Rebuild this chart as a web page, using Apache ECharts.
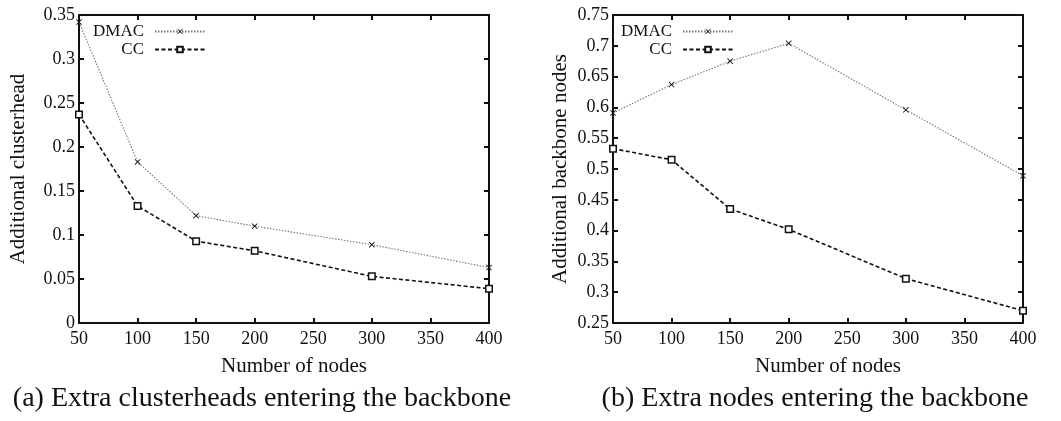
<!DOCTYPE html>
<html>
<head>
<meta charset="utf-8">
<script src="https://cdn.jsdelivr.net/npm/echarts@6/dist/echarts.min.js"></script>
<style>
html,body{margin:0;padding:0;background:#fff;}
#chart{width:1061px;height:421px;}
</style>
</head>
<body>
<div id="chart"></div>
<script>
// ---- data ----
const nodes = [50, 100, 150, 200, 300, 400];
const xTicks = [50, 100, 150, 200, 250, 300, 350, 400];
const seriesNames = ['DMAC', 'CC'];
const clusterheadDMAC = [0.342, 0.183, 0.122, 0.110, 0.089, 0.063];
const clusterheadCC   = [0.237, 0.133, 0.093, 0.082, 0.053, 0.039];
const backboneDMAC = [0.591, 0.637, 0.675, 0.704, 0.596, 0.489];
const backboneCC   = [0.533, 0.515, 0.435, 0.402, 0.322, 0.270];
const captions = ['(a) Extra clusterheads entering the backbone', '(b) Extra nodes entering the backbone'];
const xTitle = 'Number of nodes';
const yTitles = ['Additional clusterhead', 'Additional backbone nodes'];

const FONT = '"Liberation Serif", "DejaVu Serif", serif';
const INK = '#111';
const crossPath = 'path://M0,1L1,0L5,4L9,0L10,1L6,5L10,9L9,10L5,6L1,10L0,9L4,5Z';

function pairs(xs, ys){ return xs.map((x,i)=>[x, ys[i]]); }

const grids = [
  {left:79, right:572, top:15, bottom:98},
  {left:613, right:38, top:15, bottom:98}
];

function xAx(gi, pos, showLabel){
  return {
    type:'value', gridIndex:gi, position:pos, min:50, max:400, interval:50,
    name: showLabel ? xTitle : '', nameLocation:'middle', nameGap:33,
    nameTextStyle:{fontFamily:FONT, fontSize:21, color:INK, padding:[0,0,0,20]},
    axisLine:{show:true, onZero:false, lineStyle:{color:INK, width:2}},
    axisTick:{show:true, inside:true, length:5, lineStyle:{color:INK, width:2}},
    axisLabel:{show:showLabel, fontFamily:FONT, fontSize:18, color:INK, margin:7},
    splitLine:{show:false}
  };
}
function yAx(gi, pos, showLabel, mn, mx, gap){
  return {
    type:'value', gridIndex:gi, position:pos, min:mn, max:mx, interval:0.05,
    name: showLabel ? yTitles[gi] : '', nameLocation:'middle', nameGap:gap, nameRotate:90,
    nameTextStyle:{fontFamily:FONT, fontSize:21, color:INK},
    axisLine:{show:true, onZero:false, lineStyle:{color:INK, width:2}},
    axisTick:{show:true, inside:true, length:5, lineStyle:{color:INK, width:2}},
    axisLabel:{show:showLabel, fontFamily:FONT, fontSize:18, color:INK, margin:4,
      formatter: v => String(parseFloat(v.toFixed(2)))},
    splitLine:{show:false}
  };
}

function dmacSeries(idx, data){
  return {
    name:'DMAC', type:'line', xAxisIndex:idx*2, yAxisIndex:idx*2,
    data: pairs(nodes, data), symbol:crossPath, symbolSize:6, showSymbol:true,
    itemStyle:{color:'#111'},
    lineStyle:{color:'#777', width:1.1, type:[1.5,1.5]},
    animation:false, z:3
  };
}
function ccSeries(idx, data){
  return {
    name:'CC', type:'line', xAxisIndex:idx*2, yAxisIndex:idx*2,
    data: pairs(nodes, data), symbol:'rect', symbolSize:6.5, showSymbol:true,
    itemStyle:{color:'#fff', borderColor:'#111', borderWidth:1.5},
    lineStyle:{color:'#111', width:1.6, type:[4,2.5]},
    animation:false, z:4
  };
}

function legendItem(name, right, top){
  return {
    data:[name], orient:'vertical', right:right, top:top, align:'right',
    padding:0, itemWidth:50, itemHeight:7, selectedMode:false,
    textStyle:{fontFamily:FONT, fontSize:17, color:INK, padding:[0,6,0,0]}
  };
}

const option = {
  backgroundColor:'#fff',
  animation:false,
  grid: grids,
  xAxis: [xAx(0,'bottom',true), xAx(0,'top',false), xAx(1,'bottom',true), xAx(1,'top',false)],
  yAxis: [yAx(0,'left',true,0,0.35,50), yAx(0,'right',false,0,0.35,0),
          yAx(1,'left',true,0.25,0.75,42), yAx(1,'right',false,0.25,0.75,0)],
  legend: [
    legendItem('DMAC', 855, 23), legendItem('CC', 855, 41),
    legendItem('DMAC', 327, 23), legendItem('CC', 327, 41)
  ],
  series: [
    dmacSeries(0, clusterheadDMAC), ccSeries(0, clusterheadCC),
    dmacSeries(1, backboneDMAC), ccSeries(1, backboneCC)
  ],
  graphic: [
    {type:'text', x:262, y:399, style:{text:captions[0], font:'28px "Liberation Serif"', fill:INK, align:'center', verticalAlign:'middle'}},
    {type:'text', x:815, y:399, style:{text:captions[1], font:'28px "Liberation Serif"', fill:INK, align:'center', verticalAlign:'middle'}}
  ]
};

const chart = echarts.init(document.getElementById('chart'), null, {renderer:'canvas'});
chart.setOption(option);
</script>
</body>
</html>
